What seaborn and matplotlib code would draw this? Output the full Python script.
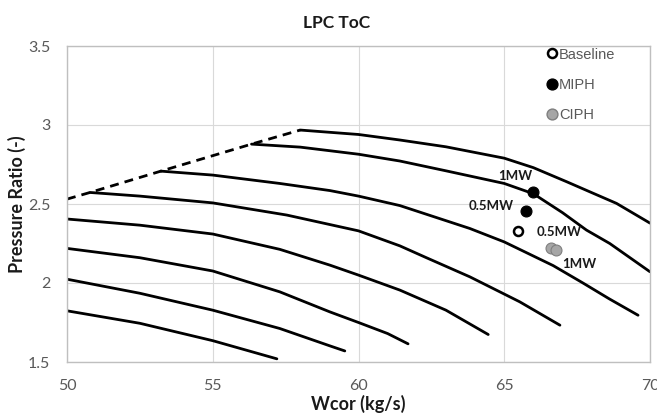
import matplotlib
matplotlib.use("Agg")
import matplotlib.pyplot as plt
from matplotlib.lines import Line2D
import pandas as pd
import seaborn as sns

# Constant-speed lines of the LPC map (corrected flow kg/s, pressure ratio)
line1_w = [58.0, 60.0, 61.42, 63.0, 65.0, 66.0, 67.14, 68.0, 68.85, 70.0]
line1_pr = [2.968, 2.940, 2.905, 2.862, 2.790, 2.730, 2.641, 2.572, 2.504, 2.379]
line2_w = [56.33, 58.0, 60.0, 61.42, 63.0, 65.0, 66.0, 67.0, 67.82, 68.62, 70.0]
line2_pr = [2.879, 2.860, 2.815, 2.772, 2.710, 2.630, 2.565, 2.445, 2.335, 2.250, 2.071]
line3_w = [53.22, 55.0, 57.3, 59.02, 60.0, 61.42, 63.82, 65.0, 66.68, 67.7, 68.6, 69.59]
line3_pr = [2.708, 2.683, 2.630, 2.585, 2.550, 2.490, 2.345, 2.260, 2.110, 2.000, 1.900, 1.796]
line4_w = [50.79, 52.5, 55.0, 57.54, 60.0, 61.42, 62.33, 63.82, 65.53, 66.91]
line4_pr = [2.573, 2.550, 2.507, 2.430, 2.330, 2.235, 2.160, 2.039, 1.881, 1.733]
line5_w = [50.0, 52.5, 55.0, 57.3, 59.02, 60.0, 61.42, 63.0, 64.45]
line5_pr = [2.405, 2.366, 2.310, 2.213, 2.113, 2.050, 1.955, 1.828, 1.674]
line6_w = [50.0, 52.5, 55.0, 57.3, 59.02, 60.0, 61.0, 61.7]
line6_pr = [2.219, 2.160, 2.076, 1.944, 1.817, 1.750, 1.680, 1.615]
line7_w = [50.0, 52.5, 55.0, 57.3, 59.02, 59.53]
line7_pr = [2.024, 1.935, 1.828, 1.712, 1.602, 1.570]
line8_w = [50.0, 52.5, 55.0, 57.2]
line8_pr = [1.824, 1.745, 1.635, 1.520]

# Surge line through the start of each speed line
surge_w = [50.0, 50.79, 53.22, 56.33, 58.0]
surge_pr = [2.531, 2.573, 2.708, 2.879, 2.968]

# Top-of-climb operating points
baseline_w = [65.48]
baseline_pr = [2.330]
miph_w = [65.74, 65.99]
miph_pr = [2.455, 2.577]
miph_labels = ["0.5MW", "1MW"]
ciph_w = [66.62, 66.76]
ciph_pr = [2.219, 2.208]
ciph_labels = ["0.5MW", "1MW"]

x_ticks = [50, 55, 60, 65, 70]
y_ticks = [1.5, 2.0, 2.5, 3.0, 3.5]
y_tick_labels = ["1.5", "2", "2.5", "3", "3.5"]

sns.set_theme(style="whitegrid")
plt.rcParams["font.family"] = ["Lato", "DejaVu Sans"]

speed_lines = [
    (line1_w, line1_pr), (line2_w, line2_pr), (line3_w, line3_pr),
    (line4_w, line4_pr), (line5_w, line5_pr), (line6_w, line6_pr),
    (line7_w, line7_pr), (line8_w, line8_pr),
]
map_df = pd.concat(
    [pd.DataFrame({"w": w, "pr": pr, "line": i}) for i, (w, pr) in enumerate(speed_lines)],
    ignore_index=True,
)
surge_df = pd.DataFrame({"w": surge_w, "pr": surge_pr})

fig = plt.figure(figsize=(6.57, 4.13), dpi=100)
ax = fig.add_axes([67 / 657, 51 / 413, 583 / 657, 316 / 413])
ax.set_facecolor("white")

sns.lineplot(data=map_df, x="w", y="pr", units="line", estimator=None, sort=False,
             color="black", linewidth=2.0, ax=ax, legend=False)
sns.lineplot(data=surge_df, x="w", y="pr", sort=False, color="black", linewidth=2.0,
             linestyle=(0, (3.2, 2.2)), ax=ax, legend=False)

grey_face = "#a6a6a6"
grey_edge = "#7f7f7f"
sns.scatterplot(x=baseline_w, y=baseline_pr, s=42, marker="o", facecolor="white",
                edgecolor="black", linewidth=1.8, ax=ax, zorder=5)
sns.scatterplot(x=miph_w, y=miph_pr, s=62, marker="o", color="black",
                edgecolor="black", linewidth=0.8, ax=ax, zorder=5)
sns.scatterplot(x=ciph_w, y=ciph_pr, s=62, marker="o", color=grey_face,
                edgecolor=grey_edge, linewidth=0.8, ax=ax, zorder=5)

label_style = dict(fontsize=9.5, fontweight="bold", color="#1a1a1a",
                   textcoords="offset pixels", ha="center", va="center")
miph_offsets = [(-35, 5), (-18, 16)]
ciph_offsets = [(8, 16), (24, -14)]
for w, pr, txt, off in zip(miph_w, miph_pr, miph_labels, miph_offsets):
    ax.annotate(txt, (w, pr), xytext=off, **label_style)
for w, pr, txt, off in zip(ciph_w, ciph_pr, ciph_labels, ciph_offsets):
    ax.annotate(txt, (w, pr), xytext=off, **label_style)

ax.set_xlim(50, 70)
ax.set_ylim(1.5, 3.5)
ax.set_xticks(x_ticks)
ax.set_yticks(y_ticks)
ax.set_yticklabels(y_tick_labels)
ax.set_xlabel("")
ax.set_ylabel("")
ax.grid(True, color="#d9d9d9", linewidth=0.8)
ax.set_axisbelow(True)
for side in ["left", "right", "top", "bottom"]:
    ax.spines[side].set_visible(True)
    ax.spines[side].set_color("#bfbfbf")
    ax.spines[side].set_linewidth(1.0)
ax.tick_params(axis="both", length=0, labelsize=11.5, labelcolor="#595959")
ax.tick_params(axis="y", pad=12)
ax.tick_params(axis="x", pad=12)

handles = [
    Line2D([], [], linestyle="none", marker="o", markersize=6.5, markerfacecolor="white",
           markeredgecolor="black", markeredgewidth=1.8),
    Line2D([], [], linestyle="none", marker="o", markersize=7.8, markerfacecolor="black",
           markeredgecolor="black"),
    Line2D([], [], linestyle="none", marker="o", markersize=7.8, markerfacecolor=grey_face,
           markeredgecolor=grey_edge),
]
leg = ax.legend(handles, ["Baseline", "MIPH", "CIPH"], loc="upper left",
                bbox_to_anchor=(0.824, 0.995), frameon=False, borderpad=0,
                borderaxespad=0, handlelength=0.6, handletextpad=0.18,
                labelspacing=1.1, prop={"family": ["Liberation Sans"], "size": 10.5})
for t in leg.get_texts():
    t.set_color("#595959")

fig.text(337 / 657, 1 - 22.5 / 413, "LPC ToC", ha="center", va="center",
         fontsize=12.5, fontweight="bold", color="#1a1a1a")
fig.text(358.5 / 657, 1 - 404 / 413, "Wcor (kg/s)", ha="center", va="center",
         fontsize=13, fontweight="bold", color="#1a1a1a")
fig.text(17 / 657, 1 - 204 / 413, "Pressure Ratio (-)", ha="center", va="center",
         rotation=90, fontsize=13, fontweight="bold", color="#1a1a1a")

fig.savefig("out.png", dpi=100, facecolor="white")
